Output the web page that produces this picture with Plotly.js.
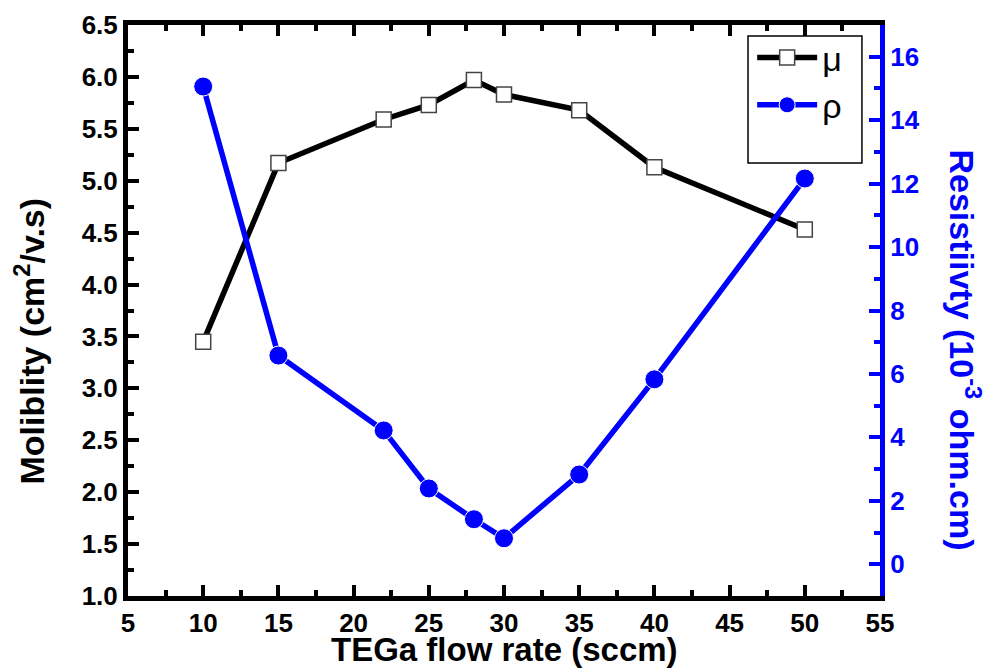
<!DOCTYPE html>
<html><head><meta charset="utf-8">
<script src="https://cdn.plot.ly/plotly-3.0.1.min.js"></script>
<style>body{margin:0;background:#fff}#c{width:986px;height:670px}</style>
</head><body><div id="c"></div>
<script>
var flowRate = [10, 15, 22, 25, 28, 30, 35, 40, 50];
var mobility = [3.45, 5.17, 5.59, 5.73, 5.97, 5.83, 5.68, 5.13, 4.53];
var resistivity = [15.06, 6.58, 4.22, 2.39, 1.42, 0.82, 2.83, 5.83, 12.16];

var F = 'Liberation Sans, Arial, sans-serif';
var traces = [
  {x: flowRate, y: mobility, name: 'μ', type: 'scatter', mode: 'lines+markers',
   line: {color: 'black', width: 5.5},
   marker: {symbol: 'square', size: 15, color: 'white', line: {color: '#444', width: 1.5}}},
  {x: flowRate, y: resistivity, name: 'ρ', type: 'scatter', mode: 'lines+markers', yaxis: 'y2',
   line: {color: '#0000ff', width: 5.5},
   marker: {symbol: 'circle', size: 19, color: '#0000ff', line: {color: 'white', width: 1}}}
];
var layout = {
  width: 986, height: 670,
  margin: {l: 128, r: 106, t: 25, b: 74},
  paper_bgcolor: 'white', plot_bgcolor: 'white',
  showlegend: true,
  legend: {x: 0.83, y: 0.993, xanchor: 'left', yanchor: 'top', bgcolor: 'rgba(0,0,0,0)',
           borderwidth: 0, font: {family: F, size: 34, color: 'black'},
           itemwidth: 60, tracegroupgap: 4},
  shapes: [{type: 'rect', xref: 'paper', yref: 'paper', x0: 0.8245, x1: 0.976, y0: 0.7583, y1: 0.9807,
            line: {color: 'black', width: 1.5}, fillcolor: 'rgba(0,0,0,0)', layer: 'above'}],
  xaxis: {range: [5, 55], dtick: 5, tick0: 5, showline: true, linewidth: 5, linecolor: 'black',
          mirror: 'ticks', ticks: 'inside', ticklen: 11, tickwidth: 4, tickcolor: 'black',
          minor: {dtick: 2.5, ticks: 'inside', ticklen: 6, tickwidth: 4, tickcolor: 'black'},
          showgrid: false, zeroline: false,
          tickfont: {family: F, size: 26, color: 'black', weight: 'bold'}},
  yaxis: {range: [1.0, 6.5], dtick: 0.5, tick0: 1, tickformat: '.1f', showline: true, linewidth: 5, linecolor: 'black',
          ticks: 'inside', ticklen: 11, tickwidth: 4, tickcolor: 'black',
          minor: {dtick: 0.25, ticks: 'inside', ticklen: 6, tickwidth: 4, tickcolor: 'black'},
          showgrid: false, zeroline: false,
          tickfont: {family: F, size: 26, color: 'black', weight: 'bold'}},
  yaxis2: {overlaying: 'y', side: 'right', range: [-1, 17], dtick: 2, tick0: 0, showline: true, linewidth: 5, linecolor: '#0000ff',
          ticks: 'inside', ticklen: 11, tickwidth: 4, tickcolor: '#0000ff',
          minor: {dtick: 1, ticks: 'inside', ticklen: 6, tickwidth: 4, tickcolor: '#0000ff'},
          showgrid: false, zeroline: false,
          tickfont: {family: F, size: 26, color: '#0000ff', weight: 'bold'}},
  annotations: [
    {text: '<b>TEGa flow rate (sccm)</b>', xref: 'paper', yref: 'paper',
     x: 0.5, xanchor: 'center', y: 0, yanchor: 'bottom', yshift: -74, showarrow: false,
     font: {family: F, size: 33, color: 'black'}},
    {text: '<b>Moliblity (cm<sup>2</sup>/v.s)</b>', xref: 'paper', yref: 'paper',
     x: 0, xanchor: 'center', xshift: -99, y: 0.5, yanchor: 'middle', yshift: -31, textangle: -90, showarrow: false,
     font: {family: F, size: 34, color: 'black'}},
    {text: '<b>Resistiivty (10<sup>-3</sup> ohm.cm)</b>', xref: 'paper', yref: 'paper',
     x: 1.0, xanchor: 'center', xshift: 85, y: 0.5, yanchor: 'middle', yshift: -39, textangle: 90, showarrow: false,
     font: {family: F, size: 34, color: '#0000ff'}}]
};
Plotly.newPlot('c', traces, layout, {staticPlot: true});
</script></body></html>
